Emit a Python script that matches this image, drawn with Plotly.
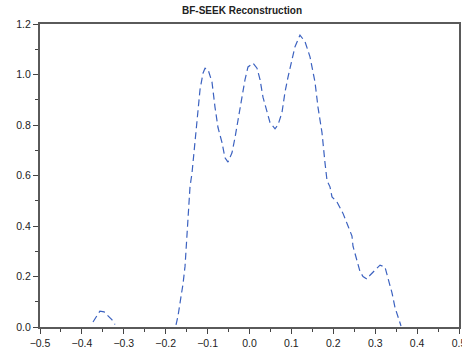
import plotly.graph_objects as go

# Reconstructed spectrum: small side lobe and the main multi-peak lobe
side_x = [-0.3735, -0.364, -0.357, -0.347, -0.338, -0.328, -0.321]
side_y = [0.020, 0.048, 0.063, 0.060, 0.044, 0.028, 0.010]

main_x = [-0.1754, -0.1706, -0.1635, -0.1587, -0.1539, -0.1516, -0.1468, -0.1420,
          -0.1372, -0.1301, -0.1253, -0.1181, -0.1110, -0.1062, -0.0990, -0.0895,
          -0.0823, -0.0752, -0.0656, -0.0585, -0.0513, -0.0418, -0.0346, -0.0274,
          -0.0179, -0.0107, -0.0036, 0.0084, 0.0179, 0.0251, 0.0322, 0.0418,
          0.0489, 0.0609, 0.0680, 0.0776, 0.0847, 0.0919, 0.1014, 0.1086,
          0.1205, 0.1325, 0.1444, 0.1563, 0.1635, 0.1730, 0.1802, 0.1850,
          0.1921, 0.1969, 0.2088, 0.2232, 0.2351, 0.2446, 0.2470, 0.2566,
          0.2637, 0.2709, 0.2804, 0.2876, 0.2995, 0.3115, 0.3234, 0.3305,
          0.3401, 0.3473, 0.3544, 0.3616]
main_y = [0.008, 0.044, 0.120, 0.170, 0.240, 0.300, 0.440, 0.555,
          0.610, 0.740, 0.820, 0.940, 1.005, 1.025, 1.020, 0.970,
          0.870, 0.790, 0.730, 0.670, 0.653, 0.690, 0.750, 0.820,
          0.900, 0.980, 1.030, 1.045, 1.025, 0.980, 0.910, 0.850,
          0.810, 0.785, 0.800, 0.850, 0.930, 0.990, 1.060, 1.110,
          1.156, 1.130, 1.070, 0.970, 0.870, 0.770, 0.650, 0.580,
          0.555, 0.515, 0.495, 0.450, 0.400, 0.360, 0.320, 0.265,
          0.220, 0.200, 0.190, 0.205, 0.225, 0.245, 0.237, 0.195,
          0.135, 0.077, 0.036, 0.004]

x_ticks = [-0.5, -0.4, -0.3, -0.2, -0.1, 0.0, 0.1, 0.2, 0.3, 0.4, 0.5]
y_ticks = [0.0, 0.2, 0.4, 0.6, 0.8, 1.0, 1.2]

xs = side_x + [None] + main_x
ys = side_y + [None] + main_y

fig = go.Figure()
fig.add_trace(go.Scatter(
    x=xs, y=ys, mode="lines", connectgaps=False,
    line=dict(color="#3c62c0", width=1.2, dash="7px,4px"),
    showlegend=False, hoverinfo="skip",
))

axis_font = dict(family="Liberation Sans, Arial, sans-serif", size=10.5, color="#222222")

fig.update_layout(
    width=462, height=349,
    margin=dict(l=40, r=3, t=24, b=22, autoexpand=False),
    paper_bgcolor="white", plot_bgcolor="white",
    title=dict(
        text="<b>BF-SEEK Reconstruction</b>",
        font=dict(family="Liberation Sans, Arial, sans-serif", size=10, color="#222222"),
        x=242 / 462, xref="container", xanchor="center",
        y=1 - 10 / 349, yref="container", yanchor="middle",
    ),
    xaxis=dict(
        range=[-0.5, 0.5], tickvals=x_ticks, tickformat=".1f",
        showgrid=False, zeroline=False,
        showline=True, linecolor="#5a5a5a", linewidth=2, mirror=True,
        ticks="outside", ticklen=5, tickwidth=1, tickcolor="#444444",
        minor=dict(ticks="outside", ticklen=3, tickwidth=1, tickcolor="#444444", dtick=0.05, tick0=0.05, showgrid=False),
        tickfont=axis_font, ticklabeloverflow="allow", automargin=False,
    ),
    yaxis=dict(
        range=[0, 1.2], tickvals=y_ticks, tickformat=".1f",
        showgrid=False, zeroline=False,
        showline=True, linecolor="#5a5a5a", linewidth=2, mirror=True,
        ticks="outside", ticklen=5, tickwidth=1, tickcolor="#444444",
        minor=dict(ticks="outside", ticklen=3, tickwidth=1, tickcolor="#444444", dtick=0.1, tick0=0.1, showgrid=False),
        tickfont=axis_font, automargin=False,
    ),
)

fig.write_html("out.html")
